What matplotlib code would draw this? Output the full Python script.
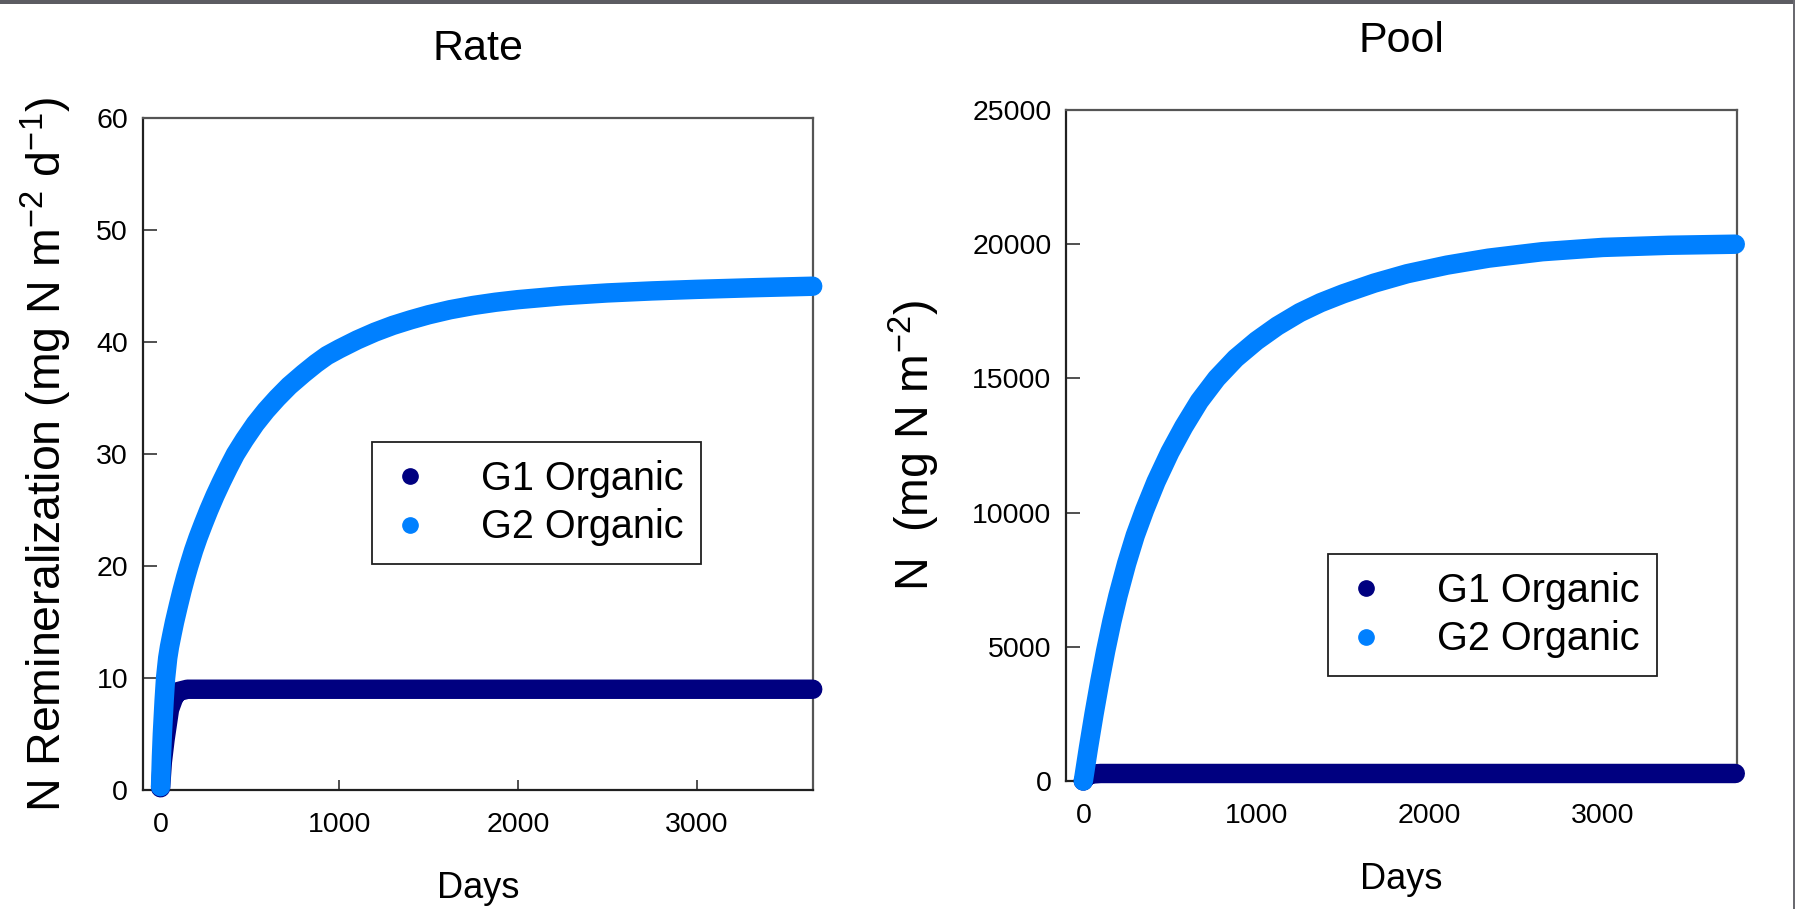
"""
Two-panel figure: G1/G2 organic N remineralization rate and pool size
over a ten-year model run.
"""

import matplotlib

matplotlib.use("Agg")

import matplotlib.pyplot as plt
from matplotlib.lines import Line2D
from matplotlib.patches import Rectangle

plt.rcParams["font.family"] = ["Liberation Sans", "DejaVu Sans"]
plt.rcParams["mathtext.default"] = "regular"

# ── Data ──────────────────────────────────────────────────────────────────────
# Rate panel (mg N m-2 d-1)
rate_days_g1 = [0, 10, 25, 50, 75, 100, 150, 200, 3650]
rate_g1 = [0.2, 2.5, 4.5, 7.2, 8.3, 8.8, 9.0, 9.0, 9.0]

rate_days_g2 = [0, 5, 10, 20, 28, 40, 50, 65, 78, 100, 120, 140, 158, 185,
                210, 240, 270, 305, 340, 380, 419, 470, 530, 590, 652, 720,
                800, 870, 931, 1000, 1100, 1200, 1300, 1400, 1500, 1620,
                1750, 1875, 2000, 2250, 2500, 2750, 3000, 3325, 3650]
rate_g2 = [0.3, 3.0, 5.0, 8.0, 10.0, 11.8, 12.8, 14.0, 15.0, 16.5, 17.8,
           19.0, 20.0, 21.4, 22.55, 23.8, 25.0, 26.3, 27.5, 28.8, 30.0, 31.3,
           32.7, 33.9, 35.0, 36.1, 37.2, 38.1, 38.8, 39.4, 40.2, 40.9, 41.5,
           42.0, 42.45, 42.9, 43.28, 43.57, 43.8, 44.15, 44.4, 44.58, 44.72,
           44.87, 45.0]

# Pool panel (mg N m-2)
pool_days_g1 = [0, 10, 25, 50, 100, 3765]
pool_g1 = [0, 120, 200, 260, 280, 280]

pool_days_g2 = [0, 30, 62, 95, 129, 165, 200, 250, 300, 354, 420, 500, 580,
                670, 770, 880, 1000, 1120, 1250, 1370, 1500, 1680, 1870,
                2100, 2340, 2650, 3000, 3380, 3765]
pool_g2 = [0, 1250, 2500, 3700, 4850, 5950, 6900, 8100, 9150, 10100, 11150,
           12250, 13200, 14150, 15000, 15750, 16400, 16950, 17450, 17820,
           18150, 18550, 18900, 19220, 19480, 19720, 19880, 19960, 20000]

SERIES = ["G1 Organic", "G2 Organic"]
X_TICKS = [0, 1000, 2000, 3000]
RATE_TICKS = [0, 10, 20, 30, 40, 50, 60]
POOL_TICKS = [0, 5000, 10000, 15000, 20000, 25000]

# ── Style ─────────────────────────────────────────────────────────────────────
COLORS = ["#000080", "#0080FF"]
W, H = 1795, 909
TICK_FS = 20.5
LINE_W = 14


def _style_axes(ax, yticks, ylim, xlim):
    ax.set_xlim(*xlim)
    ax.set_ylim(*ylim)
    ax.set_xticks(X_TICKS)
    ax.set_yticks(yticks)
    ax.tick_params(axis="both", direction="in", labelsize=TICK_FS,
                   width=1.1, color="#202020", top=False, right=False)
    ax.tick_params(axis="x", length=7, pad=16)
    ax.tick_params(axis="y", length=10, pad=10.5)
    for side in ("left", "bottom"):
        ax.spines[side].set_color("#202020")
        ax.spines[side].set_linewidth(1.6)
    for side in ("top", "right"):
        ax.spines[side].set_color("#555555")
        ax.spines[side].set_linewidth(1.6)


def _draw_series(ax, series):
    for (x, y), color in zip(series, COLORS):
        ax.plot(x, y, color=color, lw=LINE_W, solid_capstyle="round",
                solid_joinstyle="round", clip_on=False, zorder=3)


def _add_legend(fig, ax, corner_px):
    handles = [
        Line2D([], [], ls="none", marker="o", ms=11, color=c, label=s)
        for s, c in zip(SERIES, COLORS)
    ]
    leg = ax.legend(
        handles=handles, loc="upper left",
        bbox_to_anchor=(corner_px[0] / W, 1 - corner_px[1] / H),
        bbox_transform=fig.transFigure, borderaxespad=0,
        fontsize=28.5, frameon=True, fancybox=False, shadow=False,
        borderpad=0.45, handlelength=1.0, handletextpad=1.3,
        labelspacing=0.27,
    )
    frame = leg.get_frame()
    frame.set_edgecolor("#202020")
    frame.set_linewidth(1.3)
    frame.set_alpha(1)


fig = plt.figure(figsize=(W / 100, H / 100), dpi=100)
fig.patch.set_facecolor("white")

ax_rate = fig.add_axes([142.7 / W, 1 - 790 / H, 670 / W, 671.7 / H])
ax_pool = fig.add_axes([1066 / W, 1 - 781 / H, 671 / W, 671 / H])

# Rate panel
_draw_series(ax_rate, [(rate_days_g1, rate_g1), (rate_days_g2, rate_g2)])
_style_axes(ax_rate, RATE_TICKS, (0, 60), (-100, 3650))
ax_rate.set_title("Rate", fontsize=31, pad=42)
ax_rate.set_xlabel("Days", fontsize=26)
ax_rate.xaxis.set_label_coords(0.5, -0.121)
ax_rate.set_ylabel(r"N Remineralization (mg N m$^{-2}$ d$^{-1}$)", fontsize=33.5)
ax_rate.yaxis.set_label_coords(-0.103, 0.5)
_add_legend(fig, ax_rate, (372, 442))

# Pool panel
_draw_series(ax_pool, [(pool_days_g1, pool_g1), (pool_days_g2, pool_g2)])
_style_axes(ax_pool, POOL_TICKS, (0, 25000), (-100, 3775))
ax_pool.set_title("Pool", fontsize=31, pad=42)
ax_pool.set_xlabel("Days", fontsize=26)
ax_pool.xaxis.set_label_coords(0.5, -0.121)
ax_pool.set_ylabel(r"N  (mg N m$^{-2}$)", fontsize=33.5)
ax_pool.yaxis.set_label_coords(-0.185, 0.5)
_add_legend(fig, ax_pool, (1328, 554))

# grey frame strip along the top and right edges
fig.patches.append(Rectangle((0, 1 - 4 / H), 1, 4 / H, transform=fig.transFigure,
                             facecolor="#5c5c62", edgecolor="none", zorder=10))
fig.patches.append(Rectangle((1 - 2 / W, 0), 2 / W, 1, transform=fig.transFigure,
                             facecolor="#6a6a70", edgecolor="none", zorder=10))

fig.savefig("out.png", dpi=100)
